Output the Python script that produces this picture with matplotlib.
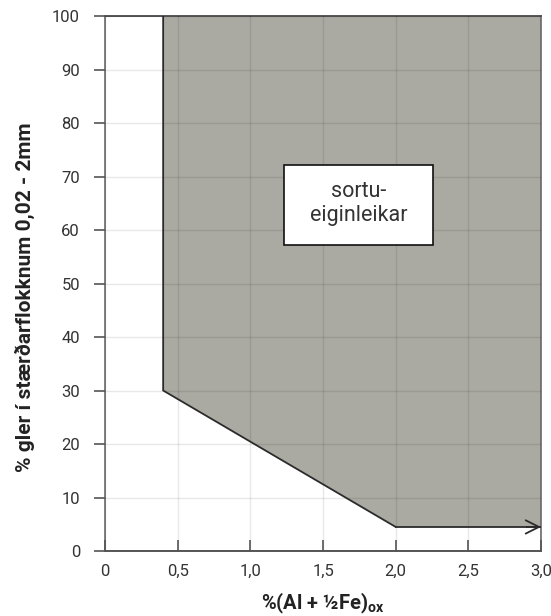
import matplotlib
matplotlib.use("Agg")
import matplotlib.pyplot as plt
from matplotlib.patches import Polygon, Rectangle

plt.rcParams['font.family'] = ['Roboto', 'DejaVu Sans']

# Boundary of the shaded region (x = %(Al + 1/2 Fe)ox, y = % gler)
boundary_x = [0.4, 0.4, 2.0, 3.0]
boundary_y = [100, 30, 4.5, 4.5]

x_ticks = [0, 0.5, 1.0, 1.5, 2.0, 2.5, 3.0]
x_tick_labels = ["0", "0,5", "1,0", "1,5", "2,0", "2,5", "3,0"]
y_ticks = [0, 10, 20, 30, 40, 50, 60, 70, 80, 90, 100]

box_x = [1.23, 2.26]
box_y = [57.2, 72.1]
box_text = "sortu-\neiginleikar"

fig = plt.figure(figsize=(5.51, 6.16), dpi=100)
ax = fig.add_axes([0.1906, 0.1055, 0.7913, 0.8685])

ax.set_xlim(0, 3.0)
ax.set_ylim(0, 100)

fill_pts = list(zip(boundary_x, boundary_y)) + [(3.0, 100)]
ax.add_patch(Polygon(fill_pts, closed=True, facecolor='#aaaaa3', edgecolor='none', zorder=1))

ax.grid(True, color='black', alpha=0.09, linewidth=1.0, zorder=2)
ax.set_axisbelow(False)

ax.plot(boundary_x[:3], boundary_y[:3], color='#2b2b2b', linewidth=1.3, zorder=3,
        solid_joinstyle='miter')
ax.plot(boundary_x[2:], boundary_y[2:], color='#2b2b2b', linewidth=1.3, zorder=3)
ax.annotate('', xy=(boundary_x[3], boundary_y[3]), xytext=(boundary_x[3] - 0.1, boundary_y[3]),
            arrowprops=dict(arrowstyle='->', color='#2b2b2b', lw=1.3,
                            mutation_scale=24, shrinkA=0, shrinkB=0),
            zorder=4, annotation_clip=False)

ax.add_patch(Rectangle((box_x[0], box_y[0]), box_x[1] - box_x[0], box_y[1] - box_y[0],
                       facecolor='white', edgecolor='#111111', linewidth=1.2, zorder=5))
ax.text((box_x[0] + box_x[1]) / 2, (box_y[0] + box_y[1]) / 2 + 0.3, box_text,
        ha='center', va='center', fontsize=15.5, color='#333333', zorder=6,
        linespacing=1.2)

ax.set_xticks(x_ticks)
ax.set_xticklabels(x_tick_labels)
ax.set_yticks(y_ticks)

ax.tick_params(axis='x', direction='in', length=8, width=1.2, color='#555555',
               labelsize=12, labelcolor='#333333', pad=9)
ax.tick_params(axis='y', direction='out', length=8, width=1.2, color='#555555',
               labelsize=12, labelcolor='#333333', pad=10)

for side in ['left', 'right']:
    ax.spines[side].set_color('#6a6a6a')
    ax.spines[side].set_linewidth(1.2)
for side in ['top', 'bottom']:
    ax.spines[side].set_color('#555555')
    ax.spines[side].set_linewidth(1.4)

ax.set_xlabel(r'%(Al + ½Fe)$_{\mathregular{ox}}$', fontsize=14.5, fontweight='bold',
              color='#222222', labelpad=9)
ax.set_ylabel('% gler í stærðarflokknum 0,02 - 2mm', fontsize=15, fontweight='bold',
              color='#222222')
ax.yaxis.set_label_coords(-0.16, 0.475)

fig.savefig('out.png', dpi=100)
